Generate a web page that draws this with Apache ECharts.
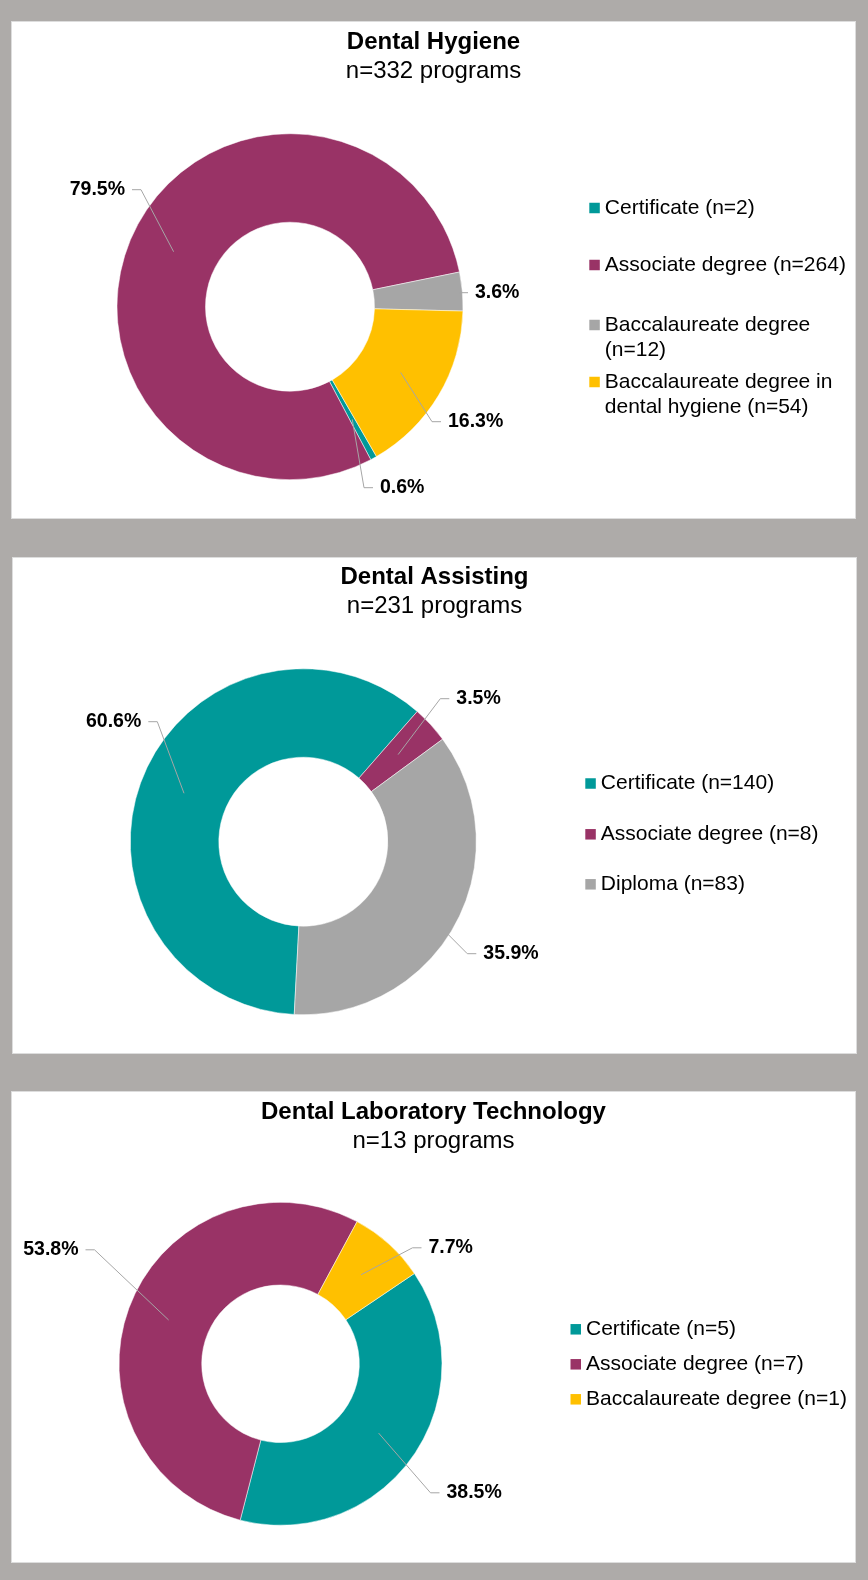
<!DOCTYPE html>
<html>
<head>
<meta charset="utf-8">
<script src="https://cdn.jsdelivr.net/npm/echarts@6/dist/echarts.min.js"></script>
<style>
html, body { margin: 0; padding: 0; background: #aeaba9; }
body { width: 868px; height: 1580px; position: relative; overflow: hidden; }
.panel { position: absolute; background: #fff; box-shadow: inset 0 0 0 1px #dddddd; }
</style>
</head>
<body>
<div id="chart_1" class="panel" style="left:11px;top:21px;width:845px;height:498px;"></div>
<div id="chart_2" class="panel" style="left:12px;top:557px;width:845px;height:497px;"></div>
<div id="chart_3" class="panel" style="left:11px;top:1091px;width:845px;height:472px;"></div>
<script>
// values (counts per degree type)
var chartTitles = ['Dental Hygiene', 'Dental Assisting', 'Dental Laboratory Technology'];

var hygieneNames = ['Certificate', 'Associate degree', 'Baccalaureate degree', 'Baccalaureate degree in dental hygiene'];
var hygieneCounts = [2, 264, 12, 54];

var assistingNames = ['Certificate', 'Associate degree', 'Diploma'];
var assistingCounts = [140, 8, 83];

var labTechNames = ['Certificate', 'Associate degree', 'Baccalaureate degree'];
var labTechCounts = [5, 7, 1];

var FONT = '"Liberation Sans", Arial, Helvetica, sans-serif';
var TEAL = '#009999', MAROON = '#993366', GREY = '#a6a6a6', GOLD = '#ffc000';

function sum(arr){
    var s = 0;
    for(var i=0;i<arr.length;i++){
        s += arr[i];
    }
    return s;
}

// angle (deg, clockwise from 12 o'clock) of the middle of slice idx
function midAngle(counts, idx, first){
    var total = sum(counts);
    var before = 0;
    for(var i=0;i<idx;i++){
        before += counts[i];
    }
    return first + (before + counts[idx]/2)/total*360;
}

function createChart(cfg){
    var myChart = echarts.init(document.getElementById(cfg.dom));
    var total = sum(cfg.counts);
    var cx = cfg.center[0], cy = cfg.center[1];
    var rMid = (cfg.radius[0] + cfg.radius[1])/2;

    var sliceData = [];
    var labelData = [];
    for(var i=0;i<cfg.names.length;i++){
        sliceData.push({name: cfg.names[i], value: cfg.counts[i], itemStyle: {color: cfg.colors[i]}});
        labelData.push({name: cfg.names[i], value: cfg.counts[i]});
    }

    var legends = [];
    for(var j=0;j<cfg.names.length;j++){
        var row = cfg.legendRows[j];
        var txt = {color: '#000', fontSize: 21, lineHeight: 25, fontFamily: FONT};
        if(cfg.legendWidth){
            txt.width = cfg.legendWidth;
            txt.overflow = 'break';
        }
        legends.push({
            data: [cfg.names[j]],
            orient: 'vertical',
            left: cfg.legendLeft,
            top: row[0] - (2*row[1]-1)*12.5,
            padding: 0,
            icon: 'rect',
            itemWidth: 10.5,
            itemHeight: 10.5,
            itemStyle: {borderWidth: 0},
            selectedMode: false,
            textStyle: txt,
            formatter: (function(lines){
                return function(name){
                    // an empty first line keeps the square level with the first text line
                    var pre = lines > 1 ? '\n' : '';
                    return pre + name + ' (n=' + cfg.counts[cfg.names.indexOf(name)] + ')';
                };
            })(row[1])
        });
    }

    var ring = {
        type: 'pie',
        center: [cx, cy],
        radius: cfg.radius,
        startAngle: 90 - cfg.firstAngle,
        clockwise: true,
        emphasis: {disabled: true}
    };

    var option = {
        animation: false,
        textStyle: {fontFamily: FONT},
        title: {
            text: cfg.title,
            subtext: 'n=' + total + ' programs',
            left: 'center',
            top: cfg.titleTop,
            padding: 0,
            itemGap: 1,
            textStyle: {fontSize: 24, fontWeight: 'bold', lineHeight: 28, color: '#000', fontFamily: FONT},
            subtextStyle: {fontSize: 24, lineHeight: 28, color: '#000', fontFamily: FONT}
        },
        legend: legends,
        series: [
            echarts.util.extend({
                z: 2,
                itemStyle: {borderColor: '#fff', borderWidth: 0.5},
                label: {show: false},
                labelLine: {show: false},
                data: sliceData
            }, ring),
            // transparent copy on top, carries the data labels so the leaders show over the ring
            echarts.util.extend({
                z: 3,
                silent: true,
                avoidLabelOverlap: false,
                itemStyle: {color: 'rgba(0,0,0,0)', borderWidth: 0},
                label: {
                    show: true,
                    position: 'outside',
                    fontSize: 19.5,
                    fontWeight: 'bold',
                    color: '#000',
                    fontFamily: FONT,
                    formatter: function(p){
                        return (p.value/total*100).toFixed(1) + '%';
                    }
                },
                labelLine: {show: true, length: 10, length2: 10, smooth: false,
                    lineStyle: {color: '#a6a6a6', width: 1, opacity: 1}},
                labelLayout: function(p){
                    var spot = cfg.labelSpots[p.dataIndex];
                    var right = spot[0] > 0;
                    var ax = cx + spot[0], ay = cy + spot[1];
                    var ang = midAngle(cfg.counts, p.dataIndex, cfg.firstAngle)*Math.PI/180;
                    var sx = cx + rMid*Math.sin(ang), sy = cy - rMid*Math.cos(ang);
                    var dir = right ? -1 : 1;
                    return {
                        x: ax,
                        y: ay,
                        align: right ? 'left' : 'right',
                        verticalAlign: 'middle',
                        labelLinePoints: [[sx, sy], [ax + dir*16, ay], [ax + dir*7, ay]]
                    };
                },
                data: labelData
            }, ring)
        ]
    };
    myChart.setOption(option);
}

createChart({
    dom: 'chart_1', title: chartTitles[0], names: hygieneNames, counts: hygieneCounts,
    colors: [TEAL, MAROON, GREY, GOLD],
    center: [279, 285.7], radius: [84.5, 173], firstAngle: 150, titleTop: 7,
    legendLeft: 578.3, legendWidth: 245, legendRows: [[187, 1], [244, 1], [304, 2], [361, 2]],
    labelSpots: [[90, 181], [-165, -117], [185, -14], [158, 115]]
});
createChart({
    dom: 'chart_2', title: chartTitles[1], names: assistingNames, counts: assistingCounts,
    colors: [TEAL, MAROON, GREY],
    center: [291.3, 284.7], radius: [84.5, 173], firstAngle: 183, titleTop: 6.5,
    legendLeft: 573.3, legendRows: [[226.5, 1], [277.3, 1], [327.3, 1]],
    labelSpots: [[-162, -120], [153, -143], [180, 112]]
});
createChart({
    dom: 'chart_3', title: chartTitles[2], names: labTechNames, counts: labTechCounts,
    colors: [TEAL, MAROON, GOLD],
    center: [269.5, 272.8], radius: [78.8, 161.5], firstAngle: 56, titleTop: 7.5,
    legendLeft: 559.5, legendRows: [[238.3, 1], [273.3, 1], [308.3, 1]],
    labelSpots: [[166, 129], [-202, -114], [148, -116]]
});
</script>
</body>
</html>
